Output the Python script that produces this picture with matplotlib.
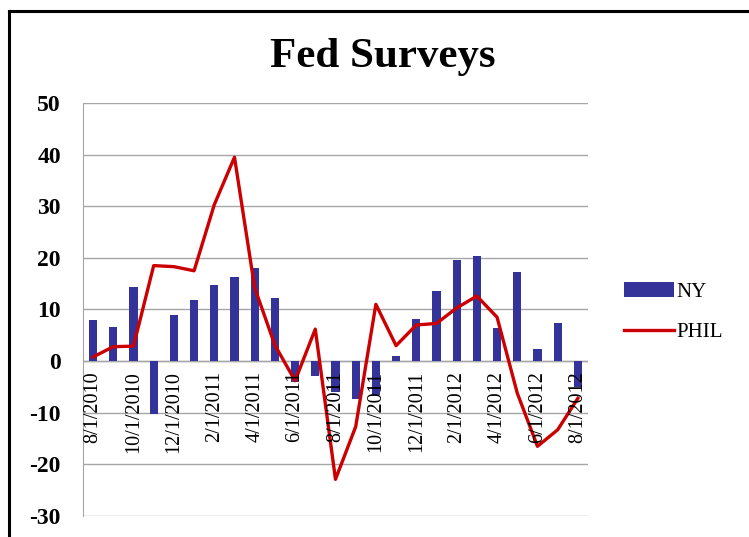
import numpy as np
import matplotlib.pyplot as plt
from matplotlib.lines import Line2D

# monthly survey readings, 8/1/2010 .. 8/1/2012
months = ['8/1/2010', '9/1/2010', '10/1/2010', '11/1/2010', '12/1/2010',
          '1/1/2011', '2/1/2011', '3/1/2011', '4/1/2011', '5/1/2011',
          '6/1/2011', '7/1/2011', '8/1/2011', '9/1/2011', '10/1/2011',
          '11/1/2011', '12/1/2011', '1/1/2012', '2/1/2012', '3/1/2012',
          '4/1/2012', '5/1/2012', '6/1/2012', '7/1/2012', '8/1/2012']
ny = [8.0, 6.6, 14.4, -10.3, 9.0, 11.8, 14.7, 16.2, 18.0, 12.2,
      -4.0, -2.8, -6.0, -7.4, -6.6, 0.9, 8.2, 13.5, 19.6, 20.4,
      6.5, 17.2, 2.3, 7.4, -5.0]
phil = [0.8, 2.8, 2.9, 18.5, 18.3, 17.5, 30.3, 39.5, 14.2, 3.1,
        -3.8, 6.2, -22.9, -12.7, 11.0, 3.0, 7.0, 7.3, 10.3, 12.6,
        8.5, -6.2, -16.5, -13.3, -7.2]
yticks = [50, 40, 30, 20, 10, 0, -10, -20, -30]

serif = 'Liberation Serif'
fig = plt.figure(figsize=(7.49, 5.37), dpi=100)
ax = fig.add_axes([0.1108, 0.0391, 0.6742, 0.7691])

x = np.arange(len(months))
bars = ax.bar(x, ny, width=0.4, color='#333399', label='NY', zorder=2)
line, = ax.plot(x, phil, color='#CC0000', lw=2.4, label='PHIL', zorder=3)

ax.set_xlim(-0.5, len(months) - 0.5)
ax.set_ylim(-30, 50)
ax.set_yticks(yticks)
ax.set_yticklabels([str(v) for v in yticks], fontfamily=serif,
                   fontweight='bold', fontsize=17)
ax.tick_params(axis='y', length=0, pad=16)
ax.grid(axis='y', color='#a6a6a6', lw=1, zorder=0)

# category axis sits on zero, labels hang just below it
ax.set_xticks([])
ax.axhline(0, color='#a6a6a6', lw=1, zorder=1)
for i in range(0, len(months), 2):
    ax.text(i, -1.9, months[i], rotation=90, ha='center', va='top',
            fontfamily=serif, fontsize=14.5, zorder=4)

for s in ['top', 'right', 'bottom']:
    ax.spines[s].set_visible(False)
ax.spines['left'].set_color('#a6a6a6')

fig.text(0.511, 0.893, 'Fed Surveys', ha='center', va='center',
         fontfamily=serif, fontweight='bold', fontsize=31)

ax.legend([bars, line], ['NY', 'PHIL'], loc='center left',
          bbox_to_anchor=(1.035, 0.494), frameon=False,
          prop={'family': serif, 'size': 15}, handlelength=2.4,
          handletextpad=0.1, labelspacing=1.0)

# outer frame
fig.add_artist(Line2D([0.012, 0.012], [0.0, 0.98], color='black', lw=2.2,
                      transform=fig.transFigure))
fig.add_artist(Line2D([0.012, 1.0], [0.98, 0.98], color='black', lw=2.2,
                      transform=fig.transFigure))

fig.savefig('out.png', dpi=100)
